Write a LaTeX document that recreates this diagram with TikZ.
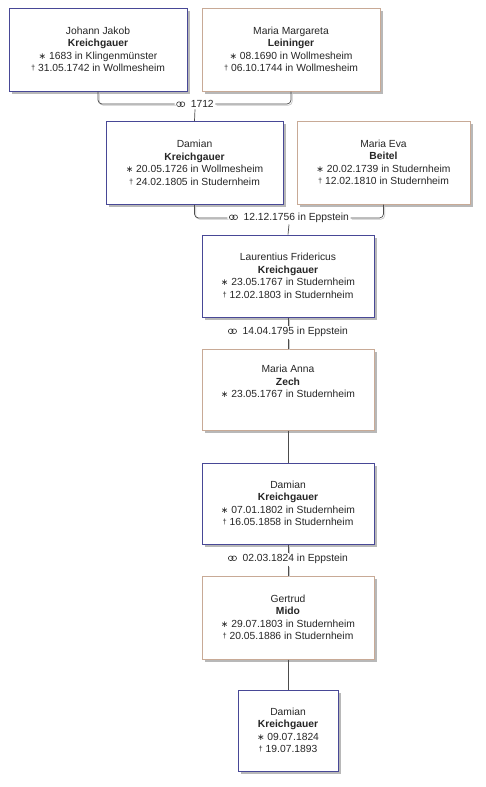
\documentclass[tikz,border=0pt]{standalone}
\usepackage{fontspec}
\setmainfont{Liberation Sans}
\newfontfamily\symfont{DejaVu Sans}
\definecolor{mblue}{RGB}{72,72,150}
\definecolor{mtan}{RGB}{200,170,150}
\newcommand{\bornsym}{{\symfont\fontsize{9}{9}\selectfont ∗}~}
\newcommand{\diedsym}{\raisebox{1.3pt}{\fontsize{7.5}{7.5}\selectfont †}~}
\newcommand{\marsym}{\tikz[baseline=0pt, x=1pt, y=1pt]{\draw[line width=0.6pt, black!80] (0,3.4) circle (2.4) (3.4,3.4) circle (2.4);}~~}
\tikzset{
  person/.style={rectangle, draw, line width=1pt, fill=white, align=center,
    inner sep=0pt, text=black!85, font=\fontsize{10.3}{12.5}\selectfont,
    preaction={fill=black!28, draw=none, transform canvas={xshift=2.5pt, yshift=-2.5pt}}},
  male/.style={person, draw=mblue},
  female/.style={person, draw=mtan},
  mlabel/.style={inner sep=1.5pt, text=black!85, font=\fontsize{10.3}{12}\selectfont},
  conn/.style={draw=black!70, line width=0.7pt, rounded corners=4pt,
    preaction={draw=black!22, line width=0.7pt, rounded corners=4pt,
      transform canvas={xshift=1.3pt, yshift=-1.3pt}}},
  child/.style={draw=black!70, line width=0.7pt}
}
\begin{document}
\begin{tikzpicture}[x=1pt, y=-1pt]
\useasboundingbox[fill=white] (0,0) rectangle (486,787);

\node[male, minimum width=178pt, minimum height=83pt] (a) at (98,49.5)
  {Johann Jakob\\\textbf{Kreichgauer}\\\bornsym 1683 in Klingenmünster\\\diedsym 31.05.1742 in Wollmesheim};
\node[female, minimum width=178pt, minimum height=83pt] (b) at (291,49.5)
  {Maria Margareta\\\textbf{Leininger}\\\bornsym 08.1690 in Wollmesheim\\\diedsym 06.10.1744 in Wollmesheim};
\node[male, minimum width=177pt, minimum height=83pt] (c) at (194.5,163)
  {Damian\\\textbf{Kreichgauer}\\\bornsym 20.05.1726 in Wollmesheim\\\diedsym 24.02.1805 in Studernheim};
\node[female, minimum width=173pt, minimum height=83pt] (d) at (383.5,162.5)
  {Maria Eva\\\textbf{Beitel}\\\bornsym 20.02.1739 in Studernheim\\\diedsym 12.02.1810 in Studernheim};
\node[male, minimum width=172pt, minimum height=82pt] (e) at (288,276)
  {Laurentius Fridericus\\\textbf{Kreichgauer}\\\bornsym 23.05.1767 in Studernheim\\\diedsym 12.02.1803 in Studernheim};
\node[female, minimum width=172pt, minimum height=81pt] (f) at (288,389.5)
  {Maria Anna\\\textbf{Zech}\\\bornsym 23.05.1767 in Studernheim\\\strut};
\node[male, minimum width=172pt, minimum height=81pt] (g) at (288,503.5)
  {Damian\\\textbf{Kreichgauer}\\\bornsym 07.01.1802 in Studernheim\\\diedsym 16.05.1858 in Studernheim};
\node[female, minimum width=172pt, minimum height=83pt] (h) at (288,617.5)
  {Gertrud\\\textbf{Mido}\\\bornsym 29.07.1803 in Studernheim\\\diedsym 20.05.1886 in Studernheim};
\node[male, minimum width=100pt, minimum height=81pt] (i) at (288,730.5)
  {Damian\\\textbf{Kreichgauer}\\\bornsym 09.07.1824\\\diedsym 19.07.1893};

\node[mlabel] (m1) at (195,104) {\marsym 1712};
\node[mlabel] (m2) at (289,218) {\marsym 12.12.1756 in Eppstein};
\node[mlabel] (m3) at (288,332) {\marsym 14.04.1795 in Eppstein};
\node[mlabel] (m4) at (288,559) {\marsym 02.03.1824 in Eppstein};

\draw[conn] (a.south) |- (m1.west);
\draw[conn] (m1.east) -| (b.south);
\draw[child] (m1.south) -- (c.north);

\draw[conn] (c.south) |- (m2.west);
\draw[conn] (m2.east) -| (d.south);
\draw[child] (m2.south) -- (e.north);

\draw[conn] (e.south) -- (m3.north);
\draw[conn] (m3.south) -- (f.north);
\draw[child] (f.south) -- (g.north);

\draw[conn] (g.south) -- (m4.north);
\draw[conn] (m4.south) -- (h.north);
\draw[child] (h.south) -- (i.north);
\end{tikzpicture}
\end{document}
